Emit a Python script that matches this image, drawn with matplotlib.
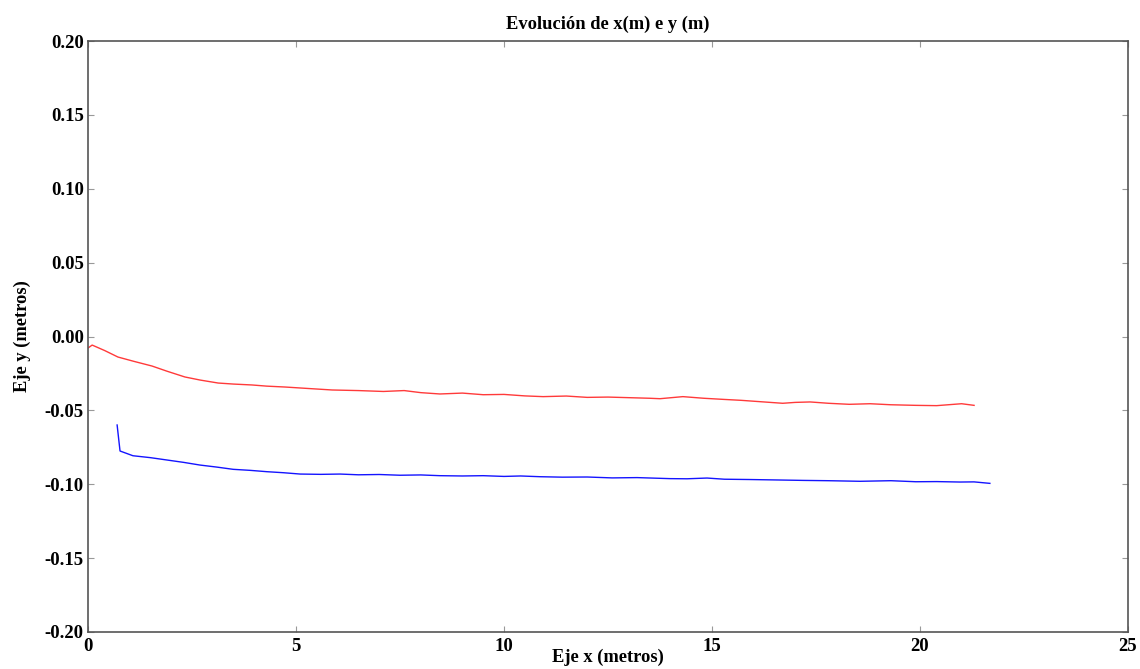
import matplotlib
matplotlib.use("Agg")
import matplotlib.pyplot as plt

# Red series (x in metres, y in metres)
red_x = [0.0, 0.1, 0.4, 0.72, 1.1, 1.54, 1.9, 2.33, 2.7, 3.13, 3.5, 3.94, 4.3, 4.74,
         5.3, 5.87, 6.5, 7.1, 7.6, 8.0, 8.46, 9.0, 9.5, 10.0, 10.5, 10.94, 11.5,
         12.0, 12.5, 13.0, 13.5, 13.75, 14.3, 14.8, 15.3, 15.7, 16.15, 16.7, 17.0,
         17.36, 17.8, 18.3, 18.8, 19.3, 19.9, 20.4, 21.0, 21.3]
red_y = [-0.0078, -0.0058, -0.0095, -0.0139, -0.0168, -0.0200, -0.0235, -0.0274,
         -0.0295, -0.0315, -0.0322, -0.0328, -0.0336, -0.0342, -0.0352, -0.0362,
         -0.0366, -0.0372, -0.0366, -0.0380, -0.0389, -0.0383, -0.0394, -0.0392,
         -0.0402, -0.0407, -0.0403, -0.0412, -0.0410, -0.0414, -0.0418, -0.0421,
         -0.0407, -0.0418, -0.0426, -0.0432, -0.0441, -0.0452, -0.0446, -0.0443,
         -0.0452, -0.0459, -0.0455, -0.0462, -0.0466, -0.0468, -0.0455, -0.0466]

# Blue series
blue_x = [0.70, 0.74, 0.77, 1.08, 1.5, 1.9, 2.3, 2.69, 3.1, 3.49, 3.9, 4.3, 4.7,
          5.1, 5.6, 6.06, 6.5, 7.0, 7.5, 8.0, 8.46, 9.0, 9.5, 10.0, 10.4, 10.87,
          11.4, 12.0, 12.6, 13.2, 13.99, 14.4, 14.88, 15.3, 15.9, 16.56, 17.2,
          17.8, 18.56, 19.3, 19.9, 20.4, 20.96, 21.3, 21.68]
blue_y = [-0.0599, -0.0700, -0.0775, -0.0807, -0.0820, -0.0836, -0.0852, -0.0870,
          -0.0884, -0.0899, -0.0906, -0.0915, -0.0922, -0.0931, -0.0933, -0.0931,
          -0.0936, -0.0934, -0.0939, -0.0937, -0.0942, -0.0944, -0.0942, -0.0947,
          -0.0944, -0.0949, -0.0952, -0.0951, -0.0957, -0.0955, -0.0962, -0.0963,
          -0.0958, -0.0966, -0.0968, -0.0971, -0.0974, -0.0976, -0.0980, -0.0976,
          -0.0983, -0.0982, -0.0985, -0.0984, -0.0994]

x_ticks = [0, 5, 10, 15, 20, 25]
y_ticks = [-0.20, -0.15, -0.10, -0.05, 0.00, 0.05, 0.10, 0.15, 0.20]

plt.rcParams['font.family'] = ['Liberation Serif', 'DejaVu Serif']
plt.rcParams['font.weight'] = 'bold'

fig = plt.figure(figsize=(11.4, 6.69), dpi=100)
ax = fig.add_axes([88/1140, 1 - 632/669, (1128-88)/1140, (632-41)/669])

ax.plot(red_x, red_y, color='#ff3a3a', linewidth=1.0)
ax.plot(blue_x, blue_y, color='#1414ff', linewidth=1.0)

ax.set_xlim(0, 25)
ax.set_ylim(-0.2, 0.2)
ax.set_xticks(x_ticks)
ax.set_xticklabels([str(t) for t in x_ticks])
ax.set_yticks(y_ticks)
ax.set_yticklabels([f"{t:.2f}" for t in y_ticks])

ax.tick_params(direction='in', length=4, width=0.8, color='#999999',
               top=True, right=True, labelsize=13.5)
ax.tick_params(axis='y', pad=3)
ax.tick_params(axis='x', pad=4)
for lab in ax.get_xticklabels() + ax.get_yticklabels():
    lab.set_fontweight('bold')
for s in ax.spines.values():
    s.set_color('#555555')
    s.set_linewidth(1.2)

ax.set_title('Evolución de x(m) e y (m)', fontsize=13.3, fontweight='bold', pad=9)
ax.set_xlabel('Eje x (metros)', fontsize=13.3, fontweight='bold', labelpad=-4)
ax.set_ylabel('Eje y (metros)', fontsize=13.3, fontweight='bold', labelpad=10)

fig.savefig('out.png', dpi=100)
